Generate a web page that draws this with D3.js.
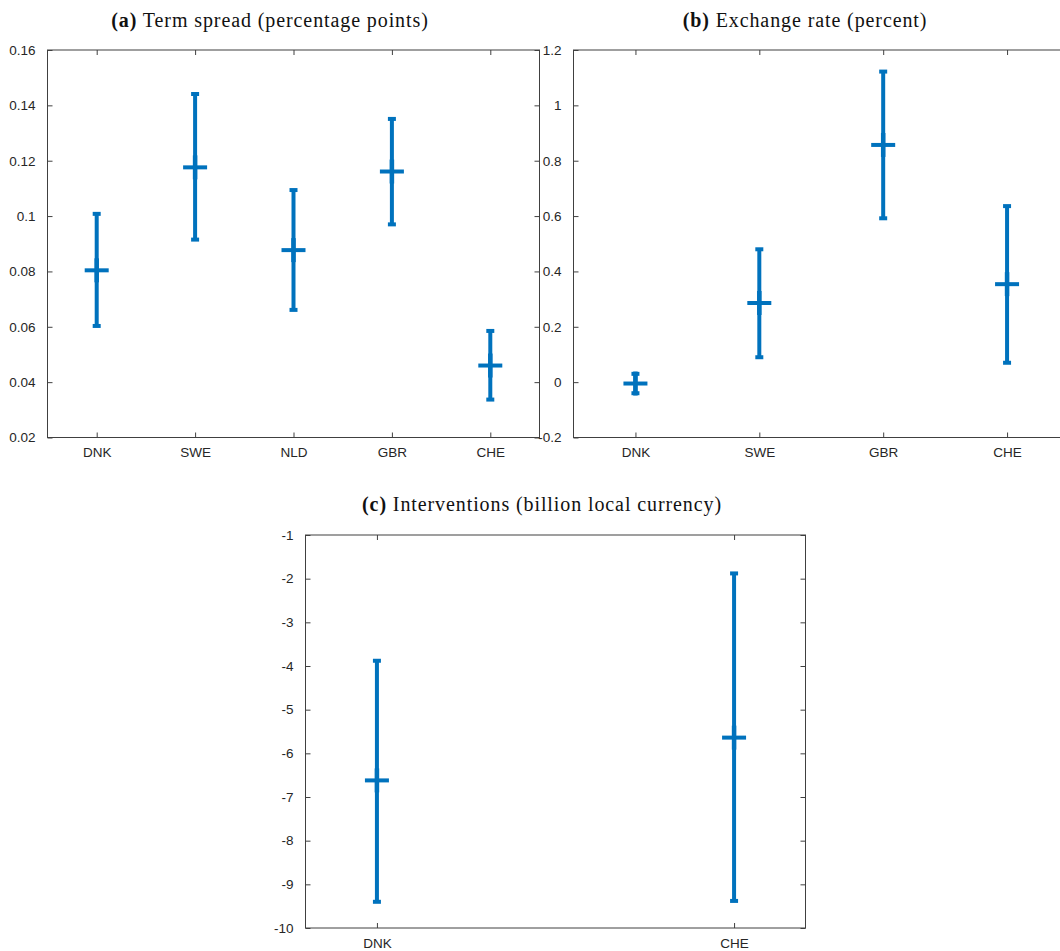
<!DOCTYPE html>
<html>
<head>
<meta charset="utf-8">
<script src="https://cdn.jsdelivr.net/npm/d3@7"></script>
<style>
  html, body { margin: 0; padding: 0; background: #fff; }
  svg { display: block; }
</style>
</head>
<body>
<svg id="chart" width="1060" height="951"></svg>
<script>
// ---------- Data ----------
// (a) Term spread (percentage points)
const catsA = ["DNK", "SWE", "NLD", "GBR", "CHE"];
const estA  = [0.0804, 0.1176, 0.0877, 0.1161, 0.0460];
const lowA  = [0.0603, 0.0915, 0.0661, 0.0970, 0.0337];
const highA = [0.1008, 0.1441, 0.1094, 0.1351, 0.0585];
const ticksA = [0.02, 0.04, 0.06, 0.08, 0.10, 0.12, 0.14, 0.16];
const tickLabelsA = ["0.02", "0.04", "0.06", "0.08", "0.1", "0.12", "0.14", "0.16"];

// (b) Exchange rate (percent)
const catsB = ["DNK", "SWE", "GBR", "CHE"];
const estB  = [-0.005, 0.286, 0.857, 0.354];
const lowB  = [-0.040, 0.090, 0.592, 0.070];
const highB = [0.030, 0.480, 1.122, 0.636];
const ticksB = [-0.2, 0, 0.2, 0.4, 0.6, 0.8, 1.0, 1.2];
const tickLabelsB = ["-0.2", "0", "0.2", "0.4", "0.6", "0.8", "1", "1.2"];

// (c) Interventions (billion local currency)
const catsC = ["DNK", "CHE"];
const estC  = [-6.62, -5.64];
const lowC  = [-9.40, -9.38];
const highC = [-3.88, -1.88];
const ticksC = [-10, -9, -8, -7, -6, -5, -4, -3, -2, -1];
const tickLabelsC = ["-10", "-9", "-8", "-7", "-6", "-5", "-4", "-3", "-2", "-1"];

// ---------- Drawing ----------
const svg = d3.select("#chart");
const BLUE = "#0072BD";
const AXIS = "#404040";
const TXT = "#262626";

function drawPanel(opt) {
  const { cats, est, low, high, ticks, tickLabels, yDomain, xPad,
          left, right, top, bottom, titleBold, titleRest, titleX, titleY } = opt;

  const x = d3.scaleLinear()
    .domain([1 - xPad, cats.length + xPad])
    .range([left, right]);
  const y = d3.scaleLinear().domain(yDomain).range([bottom, top]);

  const g = svg.append("g");
  const catIdx = cats.map((c, i) => i + 1);

  // Box
  g.append("rect")
    .attr("x", left).attr("y", top)
    .attr("width", right - left).attr("height", bottom - top)
    .attr("fill", "none").attr("stroke", AXIS).attr("stroke-width", 1);

  const tl = 5;
  const yAxisL = d3.axisLeft(y).tickValues(ticks)
    .tickSize(-tl).tickPadding(tl + 7)
    .tickFormat((d, i) => tickLabels[i]);
  const gl = g.append("g").attr("transform", `translate(${left},0)`).call(yAxisL);
  const yAxisR = d3.axisRight(y).tickValues(ticks).tickSize(-tl).tickFormat("");
  const gr = g.append("g").attr("transform", `translate(${right},0)`).call(yAxisR);
  const xAxisB = d3.axisBottom(x).tickValues(catIdx)
    .tickSize(-tl).tickPadding(tl + 5)
    .tickFormat((d, i) => cats[i]);
  const gb = g.append("g").attr("transform", `translate(0,${bottom})`).call(xAxisB);
  const xAxisT = d3.axisTop(x).tickValues(catIdx).tickSize(-tl).tickFormat("");
  const gt = g.append("g").attr("transform", `translate(0,${top})`).call(xAxisT);

  [gl, gr, gb, gt].forEach(a => {
    a.select(".domain").remove();
    a.selectAll(".tick line").attr("stroke", AXIS).attr("stroke-width", 1);
    a.selectAll(".tick text")
      .attr("fill", TXT)
      .style("font-family", "'Liberation Sans', Arial, sans-serif")
      .style("font-size", "13.5px");
  });

  // Error bars
  const eb = g.append("g").attr("stroke", BLUE).attr("stroke-width", 4)
    .attr("stroke-linecap", "butt");
  cats.forEach((c, i) => {
    const cx = x(i + 1);
    eb.append("line").attr("x1", cx).attr("x2", cx)
      .attr("y1", y(low[i])).attr("y2", y(high[i]));
    eb.append("line").attr("x1", cx - 4).attr("x2", cx + 4)
      .attr("y1", y(low[i])).attr("y2", y(low[i]));
    eb.append("line").attr("x1", cx - 4).attr("x2", cx + 4)
      .attr("y1", y(high[i])).attr("y2", y(high[i]));
    eb.append("line").attr("x1", cx - 12).attr("x2", cx + 12)
      .attr("y1", y(est[i])).attr("y2", y(est[i]));
    eb.append("line").attr("x1", cx).attr("x2", cx)
      .attr("y1", y(est[i]) - 12).attr("y2", y(est[i]) + 12)
      .attr("stroke-width", 4.5);
  });

  // Title
  const t = svg.append("text")
    .attr("x", titleX).attr("y", titleY)
    .attr("text-anchor", "middle")
    .attr("fill", "#111")
    .style("font-family", "'URW Palladio L', 'Palatino Linotype', Palatino, 'Liberation Serif', 'DejaVu Serif', serif")
    .style("font-size", "20px")
    .style("letter-spacing", "0.9px");
  t.append("tspan").attr("font-weight", "bold").text(titleBold);
  t.append("tspan").text(" " + titleRest);
}

drawPanel({
  cats: catsA, est: estA, low: lowA, high: highA,
  ticks: ticksA, tickLabels: tickLabelsA, yDomain: [0.02, 0.16], xPad: 0.5,
  left: 47.5, right: 539.5, top: 50, bottom: 437.5,
  titleBold: "(a)", titleRest: "Term spread (percentage points)",
  titleX: 270, titleY: 27
});

drawPanel({
  cats: catsB, est: estB, low: lowB, high: highB,
  ticks: ticksB, tickLabels: tickLabelsB, yDomain: [-0.2, 1.2], xPad: 0.5,
  left: 573.5, right: 1069, top: 50, bottom: 437.5,
  titleBold: "(b)", titleRest: "Exchange rate (percent)",
  titleX: 805, titleY: 27
});

drawPanel({
  cats: catsC, est: estC, low: lowC, high: highC,
  ticks: ticksC, tickLabels: tickLabelsC, yDomain: [-10, -1], xPad: 0.2,
  left: 305.5, right: 805.5, top: 535, bottom: 928,
  titleBold: "(c)", titleRest: "Interventions (billion local currency)",
  titleX: 542, titleY: 511
});
</script>
</body>
</html>
